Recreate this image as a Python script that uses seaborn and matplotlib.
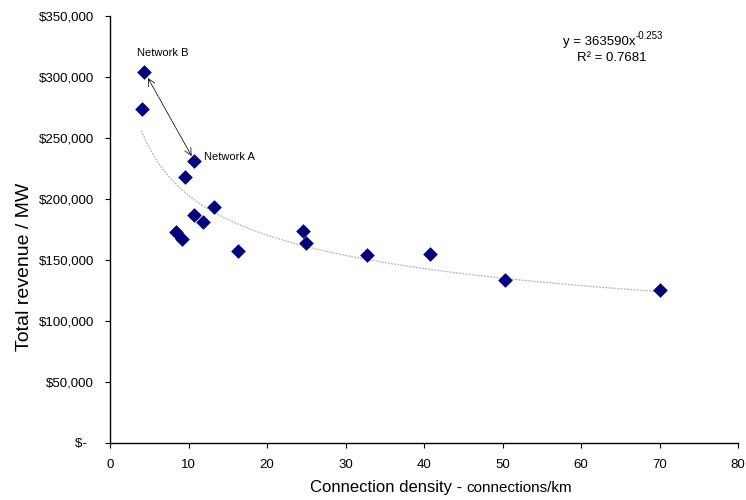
import matplotlib
matplotlib.use("Agg")
import matplotlib.pyplot as plt
import seaborn as sns
import numpy as np
import pandas as pd
from matplotlib.ticker import FuncFormatter

# Data
density = [4.35, 4.07, 10.7, 9.6, 13.2, 10.7, 11.8, 8.35, 9.2, 16.3, 24.6, 25.0, 32.7, 40.8, 50.3, 70.0]
revenue = [304300, 274000, 231400, 218300, 193700, 186600, 180900, 172700, 167500, 157100,
           173800, 164200, 154300, 154700, 133600, 125400]
trend_coef = 363590
trend_exp = -0.253
trend_range = [4.0, 70.0]
x_ticks = [0, 10, 20, 30, 40, 50, 60, 70, 80]
y_ticks = [0, 50000, 100000, 150000, 200000, 250000, 300000, 350000]

df = pd.DataFrame({"density": density, "revenue": revenue})
tx = np.linspace(trend_range[0], trend_range[1], 300)
trend = pd.DataFrame({"x": tx, "y": trend_coef * tx ** trend_exp})

sns.set_style("white")
plt.rcParams["font.family"] = ["Liberation Sans", "DejaVu Sans"]
plt.rcParams["text.color"] = "black"

W, H = 746, 500
fig = plt.figure(figsize=(W / 100, H / 100), dpi=100)
L, R, T, B = 110, 738, 16, 443
ax = fig.add_axes([L / W, 1 - B / H, (R - L) / W, (B - T) / H])

sns.lineplot(data=trend, x="x", y="y", ax=ax, color="#b4b4b4", linewidth=0.9,
             linestyle=(0, (1.5, 1.0)))
sns.scatterplot(data=df, x="density", y="revenue", ax=ax, marker="D", s=48,
                color="#000080", edgecolor="#000080", linewidth=0.5, zorder=3)

ax.set_xlim(0, 80)
ax.set_ylim(0, 350000)
ax.set_xticks(x_ticks)
ax.set_yticks(y_ticks)

def yfmt(v, pos):
    if v == 0:
        return "$-  "
    return "${:,.0f}".format(v)

ax.yaxis.set_major_formatter(FuncFormatter(yfmt))
ax.tick_params(axis="both", labelsize=9.5, direction="out", length=3.5, width=0.8,
               colors="black", labelcolor="black", bottom=True, left=True)
ax.tick_params(axis="y", pad=8)
ax.tick_params(axis="x", pad=8)
for s in ["top", "right"]:
    ax.spines[s].set_visible(False)
for s in ["left", "bottom"]:
    ax.spines[s].set_color("black")
    ax.spines[s].set_linewidth(1.0)

ax.set_xlabel("")
ax.set_ylabel("")
fig.text(25 / W, 1 - 267 / H, "Total revenue / MW", fontsize=14, rotation=90,
         ha="center", va="center", color="black")

# x label with mixed sizes
t1 = fig.text(310 / W, 1 - 492 / H, "Connection density - ", fontsize=12,
              ha="left", va="baseline", color="black")
ax.annotate("connections/km", xy=(1, 0), xycoords=t1, fontsize=11,
            ha="left", va="bottom", color="black")

# annotations
ax.annotate("", xy=(4.83, 299200), xytext=(10.4, 235200),
            arrowprops=dict(arrowstyle="<->,head_length=0.5,head_width=0.25",
                            color="black", lw=0.6,
                            linestyle=(0, (2, 1)), shrinkA=0, shrinkB=0))
ax.text(3.4, 319700, "Network B", fontsize=8, ha="left", va="center")
ax.text(12.0, 234400, "Network A", fontsize=8, ha="left", va="center")

teq = fig.text(563 / W, 1 - 42 / H, "y = 363590x", fontsize=9.5, ha="left", va="center")
ax.annotate("-0.253", xy=(1, 0.55), xycoords=teq, fontsize=7, ha="left", va="bottom")
fig.text(612 / W, 1 - 58 / H, "R² = 0.7681", fontsize=9.5, ha="center", va="center")

fig.savefig("out.png", dpi=100)
